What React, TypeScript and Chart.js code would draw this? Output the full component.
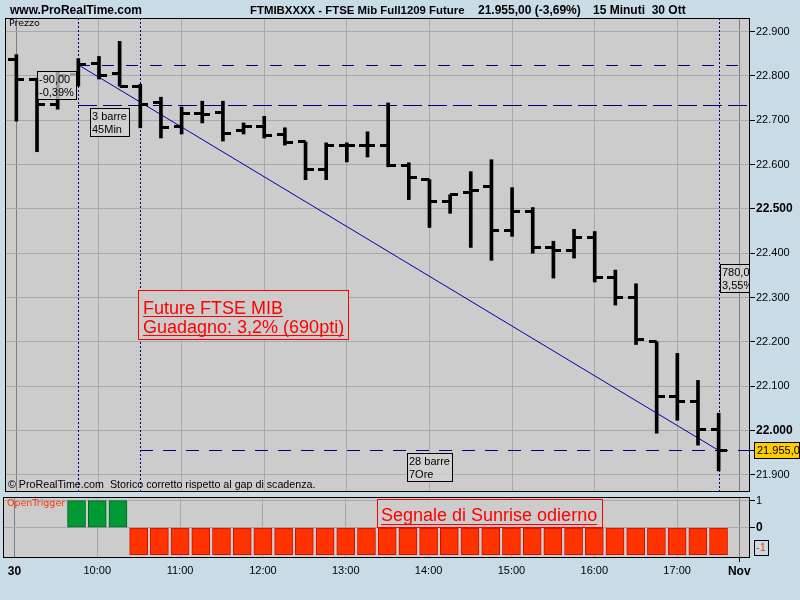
import React, { useEffect, useRef } from 'react';
import { Chart, registerables } from 'chart.js';

Chart.register(...registerables);

// ---------------- data ----------------
const BAR_TIMES = ['09:00','09:15','09:30','09:45','10:00','10:15','10:30','10:45','11:00','11:15','11:30','11:45','12:00','12:15','12:30','12:45','13:00','13:15','13:30','13:45','14:00','14:15','14:30','14:45','15:00','15:15','15:30','15:45','16:00','16:15','16:30','16:45','17:00','17:15','17:30'];
const OPEN = [22837,22793,22736,22804,22828,22806,22777,22741,22687,22716,22718,22676,22687,22667,22651,22588,22642,22642,22642,22597,22566,22517,22537,22550,22452,22494,22413,22407,22436,22346,22301,22200,22077,22066,22003];
const HIGH = [22848,22795,22810,22839,22844,22878,22781,22752,22730,22743,22743,22694,22709,22683,22651,22649,22649,22674,22739,22604,22566,22532,22584,22611,22548,22503,22427,22454,22449,22362,22331,22200,22174,22113,22039];
const LOW = [22698,22629,22725,22777,22793,22777,22683,22660,22669,22694,22653,22669,22660,22644,22566,22566,22606,22617,22595,22521,22458,22490,22413,22384,22438,22400,22344,22389,22335,22283,22194,21994,22023,21967,21909];
const CLOSE = [22792,22736,22800,22825,22801,22777,22736,22683,22716,22712,22671,22687,22665,22649,22588,22642,22642,22642,22597,22570,22517,22532,22541,22452,22494,22413,22407,22436,22346,22301,22205,22077,22066,22003,21955];
const SIGNAL = [null,null,null,1,1,1,-1,-1,-1,-1,-1,-1,-1,-1,-1,-1,-1,-1,-1,-1,-1,-1,-1,-1,-1,-1,-1,-1,-1,-1,-1,-1,-1,-1,-1];

const PRICE_TICKS = [21900,22000,22100,22200,22300,22400,22500,22600,22700,22800,22900];
const SIGNAL_TICKS = [1, 0];
const TIME_TICK_POS = [0,4,8,12,16,20,24,28,32,35];
const TIME_TICK_LABELS = ['30','10:00','11:00','12:00','13:00','14:00','15:00','16:00','17:00','Nov'];

const LEVEL_START = 22825;
const LEVEL_ENTRY = 22735;
const LEVEL_LAST = 21955;
const START_BAR = 3;
const ENTRY_BAR = 6;
const LAST_BAR = 34;
const BAR_MINUTES = 15;

const GAIN_LINES = ['Future FTSE MIB', 'Guadagno: 3,2% (690pti)'];
const SIGNAL_TEXT = 'Segnale di Sunrise odierno';
const PRICE_TAG = '21.955,0';

// ---------------- styles ----------------
const FONT = '"Liberation Sans", Arial, sans-serif';
const OUTER_BG = '#C9DCE6';
const PLOT_BG = '#CCCCCC';
const GRID = '#A9A9A9';
const GRID_DAY = '#7C7C7C';
const NAVY = '#000080';

const X_MIN = -0.55, X_MAX = 35.47;
const Y_MIN = 21863.5, Y_MAX = 22930.7;
const S_MIN = -1.085, S_MAX = 1.137;

const fmtPrice = (v: number) => { const s = String(Math.round(v)); return s.slice(0, -3) + '.' + s.slice(-3); };
const fmtComma = (v: number, d: number) => v.toFixed(d).replace('.', ',');

const diff1 = LEVEL_ENTRY - LEVEL_START;
const diff2 = LEVEL_ENTRY - LEVEL_LAST;
const BOX1 = [fmtComma(diff1, 2), fmtComma(diff1 / LEVEL_START * 100, 2) + '%'];
const BOX2 = [`${ENTRY_BAR - START_BAR} barre`, `${(ENTRY_BAR - START_BAR) * BAR_MINUTES}Min`];
const BOX3 = [fmtComma(diff2, 2), fmtComma(diff2 / LEVEL_LAST * 100, 2) + '%'];
const BOX4 = [`${LAST_BAR - ENTRY_BAR} barre`, `${((LAST_BAR - ENTRY_BAR) * BAR_MINUTES) / 60}Ore`];

const isDay = (v: number) => v === TIME_TICK_POS[0] || v === TIME_TICK_POS[TIME_TICK_POS.length - 1];

function smallBox(ctx: any, left: number, top: number, lines: string[]) {
  ctx.font = `11px ${FONT}`;
  const w = Math.ceil(Math.max(...lines.map((l) => ctx.measureText(l).width))) + 4;
  const h = 28;
  const l = Math.round(left), t = Math.round(top);
  ctx.fillStyle = 'rgba(210,210,210,0.72)';
  ctx.fillRect(l, t, w, h);
  ctx.strokeStyle = '#000';
  ctx.lineWidth = 1;
  ctx.setLineDash([]);
  ctx.strokeRect(l + 0.5, t + 0.5, w, h);
  ctx.fillStyle = '#000';
  ctx.textBaseline = 'alphabetic';
  ctx.textAlign = 'left';
  ctx.fillText(lines[0], l + 2, t + 12);
  ctx.fillText(lines[1], l + 2, t + 25);
  return w;
}
function boxWidth(ctx: any, lines: string[]) {
  ctx.font = `11px ${FONT}`;
  return Math.ceil(Math.max(...lines.map((l) => ctx.measureText(l).width))) + 4;
}

function borderRect(ctx: any, a: any) {
  const l = Math.round(a.left) + 0.5, r = Math.round(a.right) + 0.5;
  const t = Math.round(a.top) + 0.5, b = Math.round(a.bottom) + 0.5;
  ctx.save();
  ctx.strokeStyle = '#000';
  ctx.lineWidth = 1;
  ctx.setLineDash([]);
  ctx.strokeRect(l, t, r - l, b - t);
  ctx.restore();
}

const mainPlugin = {
  id: 'mainDecor',
  beforeDraw(chart: any) {
    const { ctx, chartArea: a } = chart;
    ctx.save();
    ctx.fillStyle = PLOT_BG;
    ctx.fillRect(a.left, a.top, a.right - a.left, a.bottom - a.top);
    ctx.restore();
  },
  beforeDatasetsDraw(chart: any) {
    const { ctx, chartArea: a, scales } = chart;
    const x = scales.x, y = scales.y;
    ctx.save();
    ctx.beginPath();
    ctx.rect(a.left, a.top, a.right - a.left, a.bottom - a.top);
    ctx.clip();
    ctx.strokeStyle = NAVY;
    ctx.lineWidth = 1;
    const hline = (v: number, fromBar: number, dash: number[]) => {
      const py = Math.round(y.getPixelForValue(v)) + 0.5;
      ctx.setLineDash(dash);
      ctx.beginPath();
      ctx.moveTo(Math.round(x.getPixelForValue(fromBar)), py);
      ctx.lineTo(a.right, py);
      ctx.stroke();
    };
    hline(LEVEL_START, START_BAR, [12, 12]);
    hline(LEVEL_ENTRY, START_BAR, [19, 6]);
    hline(LEVEL_LAST, ENTRY_BAR, [13, 10]);
    ctx.setLineDash([2, 2]);
    [START_BAR, ENTRY_BAR, LAST_BAR].forEach((b) => {
      const px = Math.round(x.getPixelForValue(b)) + 0.5;
      ctx.beginPath();
      ctx.moveTo(px, a.top);
      ctx.lineTo(px, a.bottom);
      ctx.stroke();
    });
    ctx.restore();
  },
  afterDatasetsDraw(chart: any) {
    const { ctx, chartArea: a, scales } = chart;
    const x = scales.x, y = scales.y;
    ctx.save();
    ctx.beginPath();
    ctx.rect(a.left, a.top, a.right - a.left, a.bottom - a.top);
    ctx.clip();

    const yS = y.getPixelForValue(LEVEL_START);
    const yE = y.getPixelForValue(LEVEL_ENTRY);
    const yL = y.getPixelForValue(LEVEL_LAST);
    const xS = x.getPixelForValue(START_BAR);
    const xE = x.getPixelForValue(ENTRY_BAR);
    const xL = x.getPixelForValue(LAST_BAR);

    const w1 = boxWidth(ctx, BOX1);
    smallBox(ctx, xS - 2 - w1, (yS + yE) / 2 - 14, BOX1);
    const w2 = boxWidth(ctx, BOX2);
    smallBox(ctx, (xS + xE) / 2 - w2 / 2, yE + 3, BOX2);
    smallBox(ctx, xL + 1, (yE + yL) / 2 - 14, BOX3);
    const w4 = boxWidth(ctx, BOX4);
    smallBox(ctx, (xE + xL) / 2 - w4 / 2, yL + 3, BOX4);

    // gain box
    ctx.font = `18px ${FONT}`;
    const gw = Math.ceil(Math.max(...GAIN_LINES.map((l) => ctx.measureText(l).width)));
    const gl = Math.round(xE - 2), gt = Math.round(y.getPixelForValue(22317));
    const bw = gw + 8, bh = 49;
    ctx.fillStyle = PLOT_BG;
    ctx.fillRect(gl, gt, bw, bh);
    ctx.strokeStyle = '#FF0000';
    ctx.lineWidth = 1;
    ctx.setLineDash([]);
    ctx.strokeRect(gl + 0.5, gt + 0.5, bw, bh);
    ctx.fillStyle = '#FF0000';
    ctx.textAlign = 'left';
    ctx.textBaseline = 'alphabetic';
    GAIN_LINES.forEach((line, i) => {
      const base = gt + 24 + i * 19;
      ctx.fillText(line, gl + 5, base);
      const lw = ctx.measureText(line).width;
      ctx.fillRect(gl + 5, base + 2, lw, 1);
    });

    // footer text
    ctx.fillStyle = '#000';
    ctx.font = `10.7px ${FONT}`;
    ctx.textBaseline = 'middle';
    ctx.fillText('\u00A9 ProRealTime.com  Storico corretto rispetto al gap di scadenza.', a.left + 3, a.bottom - 6);
    ctx.font = `9.5px "DejaVu Sans", ${FONT}`;
    ctx.fillText('Prezzo', a.left + 4, a.top + 6);
    ctx.restore();
  },
  afterDraw(chart: any) {
    const { ctx, chartArea: a, scales } = chart;
    borderRect(ctx, a);
    const py = Math.round(scales.y.getPixelForValue(LEVEL_LAST));
    ctx.save();
    ctx.strokeStyle = '#000';
    ctx.lineWidth = 1;
    ctx.beginPath();
    ctx.moveTo(a.right, py + 0.5);
    ctx.lineTo(a.right + 5, py + 0.5);
    ctx.stroke();
    const l = Math.round(a.right) + 5;
    ctx.fillStyle = '#FFCC00';
    ctx.fillRect(l, py - 8, 46, 16);
    ctx.strokeRect(l + 0.5, py - 7.5, 45, 16);
    ctx.fillStyle = '#000';
    ctx.font = `11px ${FONT}`;
    ctx.textBaseline = 'middle';
    ctx.textAlign = 'left';
    ctx.fillText(PRICE_TAG, l + 3, py + 0.5);
    ctx.restore();
  },
};

const sigPlugin = {
  id: 'sigDecor',
  beforeDraw(chart: any) {
    const { ctx, chartArea: a } = chart;
    ctx.save();
    ctx.fillStyle = PLOT_BG;
    ctx.fillRect(a.left, a.top, a.right - a.left, a.bottom - a.top);
    ctx.restore();
  },
  afterDatasetsDraw(chart: any) {
    const { ctx, chartArea: a, scales } = chart;
    const x = scales.x, y = scales.y;
    ctx.save();
    ctx.font = `9.5px "DejaVu Sans", ${FONT}`;
    ctx.fillStyle = '#FF3300';
    ctx.textBaseline = 'middle';
    ctx.textAlign = 'left';
    ctx.fillText('OpenTrigger', a.left + 4, a.top + 7);

    ctx.font = `18px ${FONT}`;
    const tw = ctx.measureText(SIGNAL_TEXT).width;
    const bl = Math.round(x.getPixelForValue(17.5));
    const bt = Math.round(y.getPixelForValue(1)) - 2;
    const bb = Math.round(y.getPixelForValue(0));
    const bw = Math.ceil(tw) + 8;
    ctx.fillStyle = PLOT_BG;
    ctx.fillRect(bl, bt, bw, bb - bt);
    ctx.strokeStyle = '#FF0000';
    ctx.lineWidth = 1;
    ctx.strokeRect(bl + 0.5, bt + 0.5, bw, bb - bt - 1);
    ctx.fillStyle = '#FF0000';
    ctx.textBaseline = 'alphabetic';
    ctx.fillText(SIGNAL_TEXT, bl + 4, bt + 22);
    ctx.fillRect(bl + 4, bt + 25, tw, 1);
    ctx.restore();
  },
  afterDraw(chart: any) {
    const { ctx, chartArea: a, scales } = chart;
    borderRect(ctx, a);
    ctx.save();
    const cy = Math.min(scales.y.getPixelForValue(-1), a.bottom - 10);
    ctx.font = `11px ${FONT}`;
    const t = '-1';
    const w = Math.ceil(ctx.measureText(t).width) + 4;
    const l = Math.round(a.right) + 5;
    ctx.strokeStyle = '#000';
    ctx.lineWidth = 1;
    ctx.strokeRect(l + 0.5, Math.round(cy - 7) + 0.5, w, 15);
    ctx.fillStyle = '#FF3300';
    ctx.textBaseline = 'middle';
    ctx.textAlign = 'left';
    ctx.fillText(t, l + 2, Math.round(cy) + 1);
    ctx.restore();
  },
};

function tickImage(side: 'left' | 'right') {
  const c = document.createElement('canvas');
  c.width = 16;
  c.height = 3;
  const g = c.getContext('2d')!;
  g.fillStyle = '#000';
  if (side === 'left') g.fillRect(0, 0, 8, 3);
  else g.fillRect(8, 0, 8, 3);
  return c;
}

export default function App() {
  const mainRef = useRef<HTMLCanvasElement>(null);
  const sigRef = useRef<HTMLCanvasElement>(null);

  useEffect(() => {
    const leftTick = tickImage('left');
    const rightTick = tickImage('right');

    const xCommon = (showLabels: boolean) => ({
      type: 'linear',
      min: X_MIN,
      max: X_MAX,
      bounds: 'data',
      offset: false,
      afterBuildTicks: (s: any) => { s.ticks = TIME_TICK_POS.map((v) => ({ value: v })); },
      afterFit: (s: any) => { s.height = showLabels ? 43 : 0; s.paddingLeft = 0; s.paddingRight = 0; },
      border: { display: false },
      grid: {
        offset: false,
        color: (c: any) => (c.tick && isDay(c.tick.value) ? GRID_DAY : GRID),
        drawTicks: showLabels,
        tickLength: 5,
        tickColor: (c: any) => (c.tick && c.tick.value === TIME_TICK_POS[TIME_TICK_POS.length - 1] ? '#000' : 'rgba(0,0,0,0)'),
      },
      ticks: {
        display: showLabels,
        autoSkip: false,
        maxRotation: 0,
        padding: 2,
        color: '#000',
        callback: (v: any) => { const i = TIME_TICK_POS.indexOf(v); return i >= 0 ? TIME_TICK_LABELS[i] : ''; },
        font: (c: any) => {
          const bold = c.tick && isDay(c.tick.value);
          return { family: FONT, size: bold ? 12 : 11, weight: bold ? 'bold' : 'normal' };
        },
      },
    });

    const main = new Chart(mainRef.current!, {
      type: 'bar',
      data: {
        labels: BAR_TIMES,
        datasets: [
          {
            type: 'bar',
            label: 'High-Low',
            data: HIGH.map((h, i) => ({ x: i, y: [LOW[i], h] })) as any,
            backgroundColor: '#000',
            borderWidth: 0,
            barThickness: 3,
            order: 1,
          },
          {
            type: 'scatter',
            label: 'Open',
            data: OPEN.map((o, i) => ({ x: i, y: o })),
            pointStyle: leftTick as any,
            pointRadius: 3,
            showLine: false,
            order: 0,
          },
          {
            type: 'scatter',
            label: 'Close',
            data: CLOSE.map((c, i) => ({ x: i, y: c })),
            pointStyle: rightTick as any,
            pointRadius: 3,
            showLine: false,
            order: 0,
          },
          {
            type: 'line',
            label: 'Trend',
            data: [{ x: START_BAR, y: LEVEL_START }, { x: LAST_BAR, y: LEVEL_LAST }],
            borderColor: '#0000B0',
            borderWidth: 1,
            pointRadius: 0,
            fill: false,
            tension: 0,
            order: 5,
          },
        ] as any,
      },
      options: {
        responsive: false,
        maintainAspectRatio: false,
        animation: false,
        events: [],
        layout: { padding: { left: 3, top: 18, right: 0, bottom: 2 } },
        plugins: { legend: { display: false }, tooltip: { enabled: false }, title: { display: false } },
        scales: {
          x: xCommon(false) as any,
          y: {
            type: 'linear',
            position: 'right',
            min: Y_MIN,
            max: Y_MAX,
            bounds: 'data',
            afterBuildTicks: (s: any) => { s.ticks = PRICE_TICKS.map((v) => ({ value: v })); },
            afterFit: (s: any) => { s.width = 51; s.paddingTop = 0; s.paddingBottom = 0; },
            border: { display: false },
            grid: { color: GRID, tickColor: '#000', tickLength: 6, drawTicks: true },
            ticks: {
              padding: 1,
              color: '#000',
              callback: (v: any) => fmtPrice(v),
              font: (c: any) => {
                const bold = c.tick && c.tick.value % 500 === 0;
                return { family: FONT, size: bold ? 12 : 11, weight: bold ? 'bold' : 'normal' };
              },
            },
          } as any,
        },
      },
      plugins: [mainPlugin],
    });

    const sig = new Chart(sigRef.current!, {
      type: 'bar',
      data: {
        labels: BAR_TIMES,
        datasets: [
          {
            label: 'OpenTrigger',
            data: SIGNAL.map((v, i) => ({ x: i, y: v })) as any,
            backgroundColor: SIGNAL.map((v) => (v !== null && v > 0 ? '#009933' : '#FF3300')),
            borderColor: SIGNAL.map((v) => (v !== null && v > 0 ? '#006622' : '#CC1100')),
            borderWidth: 1,
            borderSkipped: false,
            barThickness: 18,
          },
        ],
      },
      options: {
        responsive: false,
        maintainAspectRatio: false,
        animation: false,
        events: [],
        layout: { padding: { left: 3, top: 1, right: 0, bottom: 0 } },
        plugins: { legend: { display: false }, tooltip: { enabled: false } },
        scales: {
          x: xCommon(true) as any,
          y: {
            type: 'linear',
            position: 'right',
            min: S_MIN,
            max: S_MAX,
            bounds: 'data',
            afterBuildTicks: (s: any) => { s.ticks = SIGNAL_TICKS.map((v) => ({ value: v })); },
            afterFit: (s: any) => { s.width = 51; s.paddingTop = 0; s.paddingBottom = 0; },
            border: { display: false },
            grid: { color: GRID, tickColor: '#000', tickLength: 6, drawTicks: true },
            ticks: {
              padding: 1,
              color: '#000',
              callback: (v: any) => String(v),
              font: (c: any) => {
                const bold = c.tick && c.tick.value === 0;
                return { family: FONT, size: bold ? 12 : 11, weight: bold ? 'bold' : 'normal' };
              },
            },
          } as any,
        },
      },
      plugins: [sigPlugin],
    });

    return () => {
      main.destroy();
      sig.destroy();
    };
  }, []);

  const titleStyle: React.CSSProperties = {
    position: 'absolute',
    top: 3,
    font: `bold 12px ${FONT}`,
    lineHeight: '14px',
    whiteSpace: 'pre',
    color: '#000',
  };

  return (
    <div style={{ position: 'fixed', left: 0, top: 0, width: 800, height: 600, background: OUTER_BG, overflow: 'hidden' }}>
      <canvas ref={mainRef} width={800} height={496} style={{ position: 'absolute', left: 0, top: 0, width: 800, height: 496 }} />
      <canvas ref={sigRef} width={800} height={104} style={{ position: 'absolute', left: 0, top: 496, width: 800, height: 104 }} />
      <div style={{ ...titleStyle, left: 10 }}>www.ProRealTime.com</div>
      <div style={{ ...titleStyle, left: 250, fontSize: '11.4px' }}>FTMIBXXXX - FTSE Mib Full1209 Future</div>
      <div style={{ ...titleStyle, left: 478 }}>21.955,00 (-3,69%)</div>
      <div style={{ ...titleStyle, left: 593 }}>15 Minuti  30 Ott</div>
    </div>
  );
}
